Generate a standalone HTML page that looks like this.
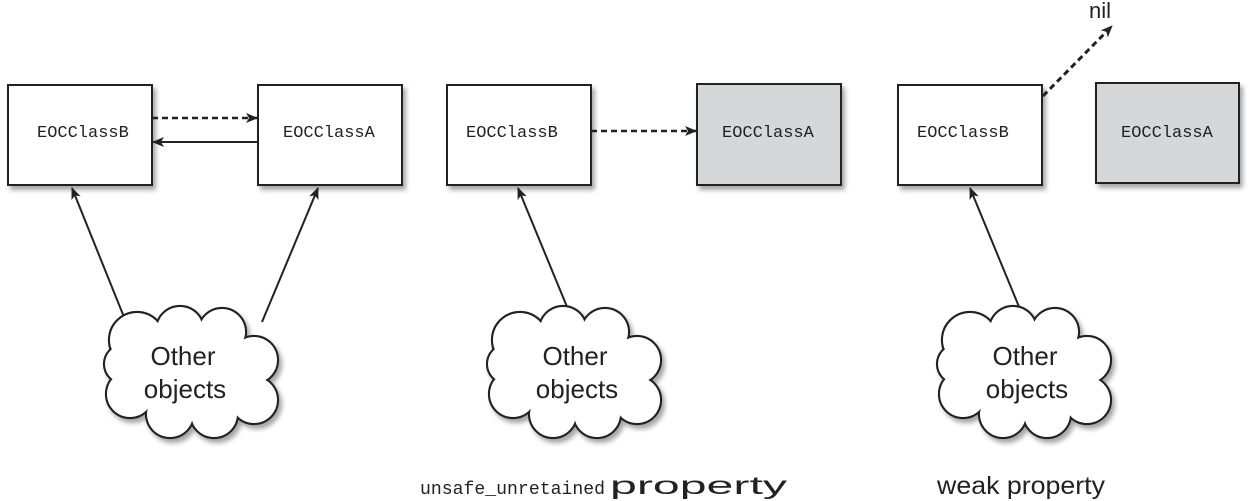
<!DOCTYPE html>
<html><head><meta charset="utf-8"><style>
html,body{margin:0;padding:0;background:#fff;width:1254px;height:501px;overflow:hidden}
svg{display:block}
.m{font-family:"Liberation Mono",monospace;font-size:17px;fill:#222}
.s{font-family:"Liberation Sans",sans-serif;fill:#222}
</style></head><body>
<svg width="1254" height="501" viewBox="0 0 1254 501" xmlns="http://www.w3.org/2000/svg">
<defs>
<marker id="ah" viewBox="0 0 12 10" refX="11" refY="5" markerWidth="12" markerHeight="10" markerUnits="userSpaceOnUse" orient="auto">
<path d="M0,0 L12,5 L0,10 L3,5 Z" fill="#222"/></marker>
<filter id="sh" x="-10%" y="-10%" width="130%" height="130%"><feDropShadow dx="3" dy="4" stdDeviation="2.5" flood-color="#000" flood-opacity="0.35"/></filter>
<g id="cloudS" stroke="#222" stroke-width="2.2" fill="#fff">
<circle cx="-55" cy="-32" r="28"/><circle cx="-12" cy="-42" r="24"/><circle cx="30" cy="-40" r="24"/><circle cx="62" cy="-12" r="24"/><circle cx="62" cy="28" r="24"/><circle cx="22" cy="42" r="24"/><circle cx="-22" cy="42" r="24"/><circle cx="-62" cy="22" r="24"/><circle cx="-68" cy="-8" r="20"/>
</g>
<g id="cloudF" fill="#fff">
<circle cx="-55" cy="-32" r="26.9"/><circle cx="-12" cy="-42" r="22.9"/><circle cx="30" cy="-40" r="22.9"/><circle cx="62" cy="-12" r="22.9"/><circle cx="62" cy="28" r="22.9"/><circle cx="22" cy="42" r="22.9"/><circle cx="-22" cy="42" r="22.9"/><circle cx="-62" cy="22" r="22.9"/><circle cx="-68" cy="-8" r="18.9"/><ellipse cx="0" cy="0" rx="65" ry="45"/>
</g>
</defs>

<g filter="url(#sh)">
<rect x="8" y="85" width="144" height="100" fill="#fff" stroke="#222" stroke-width="2"/>
<rect x="258" y="85" width="144" height="100" fill="#fff" stroke="#222" stroke-width="2"/>
<rect x="447" y="85" width="144" height="100" fill="#fff" stroke="#222" stroke-width="2"/>
<rect x="697" y="84" width="144" height="101" fill="#d6d7d9" stroke="#222" stroke-width="2"/>
<rect x="898" y="85" width="144" height="100" fill="#fff" stroke="#222" stroke-width="2"/>
<rect x="1096" y="83" width="143" height="100" fill="#d6d7d9" stroke="#222" stroke-width="2"/>
</g>
<text class="m" x="37" y="137">EOCClassB</text>
<text class="m" x="283" y="137">EOCClassA</text>
<text class="m" x="466" y="137">EOCClassB</text>
<text class="m" x="722" y="137">EOCClassA</text>
<text class="m" x="917" y="137">EOCClassB</text>
<text class="m" x="1121" y="137">EOCClassA</text>

<g stroke="#222" stroke-width="2" fill="none">
<line x1="152" y1="118" x2="257" y2="118" stroke-dasharray="6,4" stroke-width="2.5" marker-end="url(#ah)"/>
<line x1="258" y1="142" x2="153" y2="142" marker-end="url(#ah)"/>
<line x1="591" y1="131" x2="696" y2="131" stroke-dasharray="6,4" stroke-width="2.5" marker-end="url(#ah)"/>
<line x1="1043" y1="96" x2="1112" y2="26" stroke-dasharray="6,4" stroke-width="3" marker-end="url(#ah)"/>
<line x1="126" y1="322" x2="72" y2="188" marker-end="url(#ah)"/>
<line x1="262" y1="322" x2="318" y2="188" marker-end="url(#ah)"/>
<line x1="570" y1="314" x2="518" y2="188" marker-end="url(#ah)"/>
<line x1="1022" y1="314" x2="970" y2="188" marker-end="url(#ah)"/>
</g>

<g filter="url(#sh)"><use href="#cloudS" x="192" y="372"/></g><use href="#cloudF" x="192" y="372"/>
<g filter="url(#sh)"><use href="#cloudS" x="575" y="372"/></g><use href="#cloudF" x="575" y="372"/>
<g filter="url(#sh)"><use href="#cloudS" x="1025" y="372"/></g><use href="#cloudF" x="1025" y="372"/>

<g class="s" font-size="26" text-anchor="middle">
<text x="183" y="365">Other</text><text x="185" y="398">objects</text>
<text x="575" y="365">Other</text><text x="577" y="398">objects</text>
<text x="1025" y="365">Other</text><text x="1027" y="398">objects</text>
</g>
<text class="s" x="1100" y="18" font-size="22" text-anchor="middle">nil</text>
<text x="420" y="494" font-family="Liberation Mono,monospace" font-size="18" fill="#222" textLength="185" lengthAdjust="spacingAndGlyphs">unsafe_unretained</text>
<text class="s" x="610" y="494" font-size="25" textLength="177" lengthAdjust="spacingAndGlyphs">property</text>
<text class="s" x="937" y="494" font-size="25" textLength="168" lengthAdjust="spacingAndGlyphs">weak property</text>
</svg>
</body></html>
